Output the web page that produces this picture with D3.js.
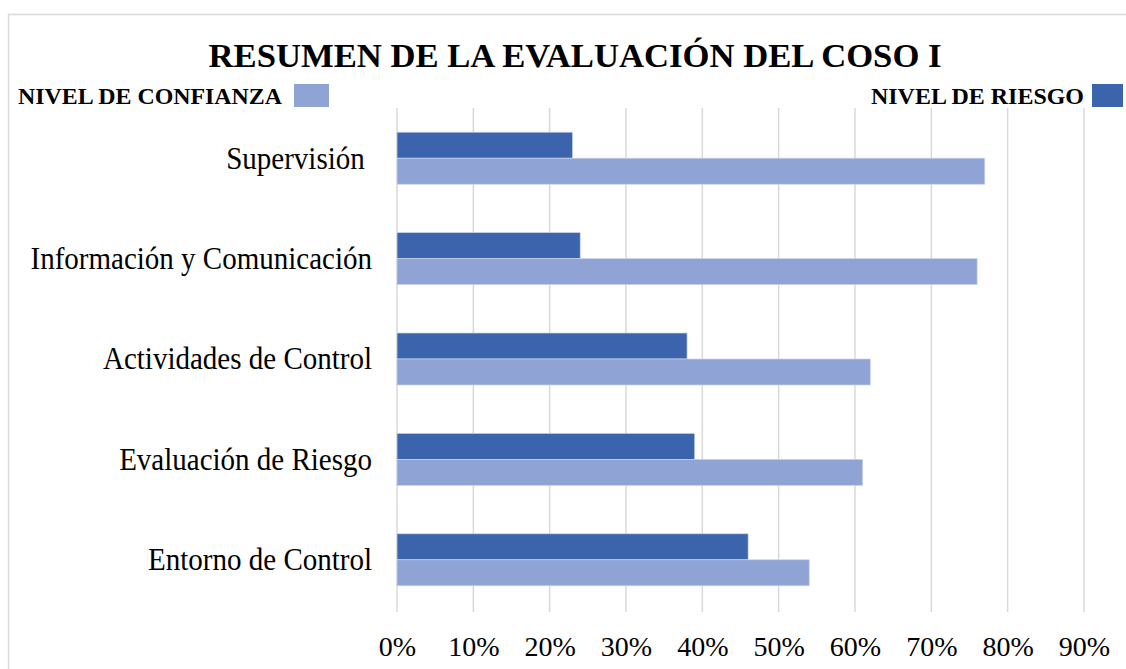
<!DOCTYPE html>
<html>
<head>
<meta charset="utf-8">
<script src="https://cdn.jsdelivr.net/npm/d3@7"></script>
<style>
  body { margin: 0; background: #fff; }
  text { font-family: "Liberation Serif", "Times New Roman", serif; fill: #000; white-space: pre; }
</style>
</head>
<body>
<svg id="chart"></svg>
<script>
var categories = ["Supervisión ", "Información y Comunicación", "Actividades de Control", "Evaluación de Riesgo", "Entorno de Control"];
var riesgo = [23, 24, 38, 39, 46];
var confianza = [77, 76, 62, 61, 54];
var tickValues = [0, 10, 20, 30, 40, 50, 60, 70, 80, 90];

var totalWidth = 1126;
var totalHeight = 669;
var margin = { top: 108, right: 42, bottom: 59, left: 397 };
var width = totalWidth - margin.left - margin.right;
var height = totalHeight - margin.top - margin.bottom;

var svg = d3.select("#chart")
    .attr("width", totalWidth)
    .attr("height", totalHeight);

// outer frame
svg.append("rect")
    .attr("x", 8.5).attr("y", 14.5)
    .attr("width", 1130).attr("height", 700)
    .attr("fill", "none")
    .attr("stroke", "#d9d9d9")
    .attr("stroke-width", 1.5);

svg.append("text")
    .attr("x", 575).attr("y", 67)
    .attr("text-anchor", "middle")
    .attr("font-size", 34)
    .attr("font-weight", "bold")
    .attr("textLength", 733)
    .attr("lengthAdjust", "spacingAndGlyphs")
    .text("RESUMEN DE LA EVALUACIÓN DEL COSO I");

// legend
svg.append("text")
    .attr("x", 18).attr("y", 104)
    .attr("font-size", 24)
    .attr("font-weight", "bold")
    .attr("textLength", 264)
    .attr("lengthAdjust", "spacingAndGlyphs")
    .text("NIVEL DE CONFIANZA");
svg.append("rect")
    .attr("x", 294).attr("y", 84).attr("width", 35).attr("height", 23)
    .attr("fill", "#8fa3d4");
svg.append("text")
    .attr("x", 1084).attr("y", 104)
    .attr("text-anchor", "end")
    .attr("font-size", 24)
    .attr("font-weight", "bold")
    .attr("textLength", 213)
    .attr("lengthAdjust", "spacingAndGlyphs")
    .text("NIVEL DE RIESGO");
svg.append("rect")
    .attr("x", 1092).attr("y", 84).attr("width", 31).attr("height", 23)
    .attr("fill", "#3c64ac");

var x = d3.scaleLinear().domain([0, 90]).range([0, width]);
var y = d3.scaleBand().domain(categories).range([0, height]).padding(0);

var g = svg.append("g")
    .attr("transform", "translate(" + margin.left + "," + margin.top + ")");

// gridlines
g.selectAll(".grid")
    .data(tickValues)
    .enter()
    .append("line")
    .attr("x1", function (d) { return x(d) })
    .attr("x2", function (d) { return x(d) })
    .attr("y1", 0)
    .attr("y2", height + 2)
    .attr("stroke", "#d9d9d9")
    .attr("stroke-width", 1.5);

var barH = 26;

g.selectAll(".riesgo")
    .data(categories)
    .enter()
    .append("rect")
    .attr("x", x(0))
    .attr("y", function (d) { return y(d) + y.bandwidth() / 2 - barH })
    .attr("width", function (d, i) { return x(riesgo[i]) - x(0) })
    .attr("height", barH)
    .attr("fill", "#3c64ac")
    .attr("stroke", "#c9d3ea")
    .attr("stroke-width", 0.7);

g.selectAll(".confianza")
    .data(categories)
    .enter()
    .append("rect")
    .attr("x", x(0))
    .attr("y", function (d) { return y(d) + y.bandwidth() / 2 })
    .attr("width", function (d, i) { return x(confianza[i]) - x(0) })
    .attr("height", barH)
    .attr("fill", "#8fa3d4")
    .attr("stroke", "#c9d3ea")
    .attr("stroke-width", 0.7);

// category labels (taller glyphs, same width as 29px)
var yAxis = g.append("g")
    .call(d3.axisLeft(y).tickSize(0).tickPadding(25));
yAxis.select(".domain").remove();
yAxis.selectAll("text")
    .attr("font-size", 29)
    .each(function () {
        var len = this.getComputedTextLength();
        d3.select(this)
            .attr("font-size", 32.5)
            .attr("textLength", len)
            .attr("lengthAdjust", "spacingAndGlyphs");
    });

// x axis labels
var xAxis = g.append("g")
    .attr("transform", "translate(0," + height + ")")
    .call(d3.axisBottom(x).tickValues(tickValues).tickSize(0).tickPadding(26)
        .tickFormat(function (d) { return d + "%" }));
xAxis.select(".domain").remove();
xAxis.selectAll("text")
    .attr("font-size", 28);
</script>
</body>
</html>
